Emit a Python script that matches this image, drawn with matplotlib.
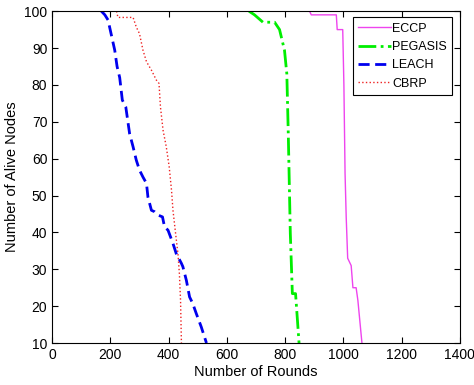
import numpy as np
import matplotlib.pyplot as plt

plt.rcParams['font.family'] = ['Liberation Sans', 'DejaVu Sans']

# values
eccp_x = [884, 890, 976, 979, 998, 1002, 1006, 1010, 1015, 1027, 1033, 1044, 1050, 1064]
eccp_y = [100, 99, 99, 95, 95, 80, 56, 44, 33, 31, 25, 25, 21.6, 10]

peg_x = [676, 695, 724, 764, 781, 798, 806, 811, 818, 825, 836, 848]
peg_y = [100, 99, 97, 97, 95, 89.4, 83, 66.8, 39.7, 23.4, 23.4, 10]

leach_x = [169, 181, 192, 215, 223, 232, 241, 253, 266, 278, 289, 300, 312, 324, 329,
           341, 352, 364, 379, 386, 398, 415, 426, 444, 449, 461, 472, 483, 495, 512, 530]
leach_y = [100, 99, 97.6, 89.4, 85, 82, 75.9, 74, 66.8, 63.2, 59.6, 56.9, 55, 53.3, 49.6,
           46, 45.6, 44.7, 44.2, 41.5, 40.6, 37, 34.3, 31.6, 30.7, 27, 22.5, 20.7, 18, 14.4, 10]

cbrp_x = [221, 226, 278, 289, 300, 312, 324, 341, 358, 367, 372, 381, 392, 402, 410,
          415, 424, 432, 437, 441, 444]
cbrp_y = [100, 98.3, 98.3, 95.7, 93.9, 89.4, 86.3, 84, 81.3, 80.4, 74, 67.7, 63.2, 57.8, 51.4,
          46, 39.7, 34.3, 28.8, 21.6, 10]

fig = plt.figure(figsize=(4.74, 3.85), dpi=100)
ax = fig.add_axes([0.110, 0.109, 0.860, 0.862])

ax.plot(eccp_x, eccp_y, color='#ee44ee', lw=1.0, label='ECCP')
ax.plot(peg_x, peg_y, color='#00ee00', lw=2.0, ls='-.', label='PEGASIS')
ax.plot(leach_x, leach_y, color='#0000ee', lw=2.0, ls=(0, (4, 2)), label='LEACH')
ax.plot(cbrp_x, cbrp_y, color='#ee2222', lw=1.0, ls=':', label='CBRP')

ax.set_xlim(0, 1400)
ax.set_ylim(10, 100)
ax.set_xticks(np.arange(0, 1401, 200))
ax.set_yticks(np.arange(10, 101, 10))
ax.tick_params(direction='in', top=True, right=True, labelsize=10, length=4)
ax.set_xlabel('Number of Rounds', fontsize=10.5, labelpad=2)
ax.set_ylabel('Number of Alive Nodes', fontsize=10.5, labelpad=4)

leg = ax.legend(loc='upper right', bbox_to_anchor=(0.982, 0.982), fontsize=9,
                fancybox=False, edgecolor='black', framealpha=1,
                handlelength=2.6, handletextpad=0.1, borderpad=0.45, labelspacing=0.5,
                borderaxespad=0)
leg.get_frame().set_linewidth(0.8)

fig.savefig('out.png', dpi=100)
